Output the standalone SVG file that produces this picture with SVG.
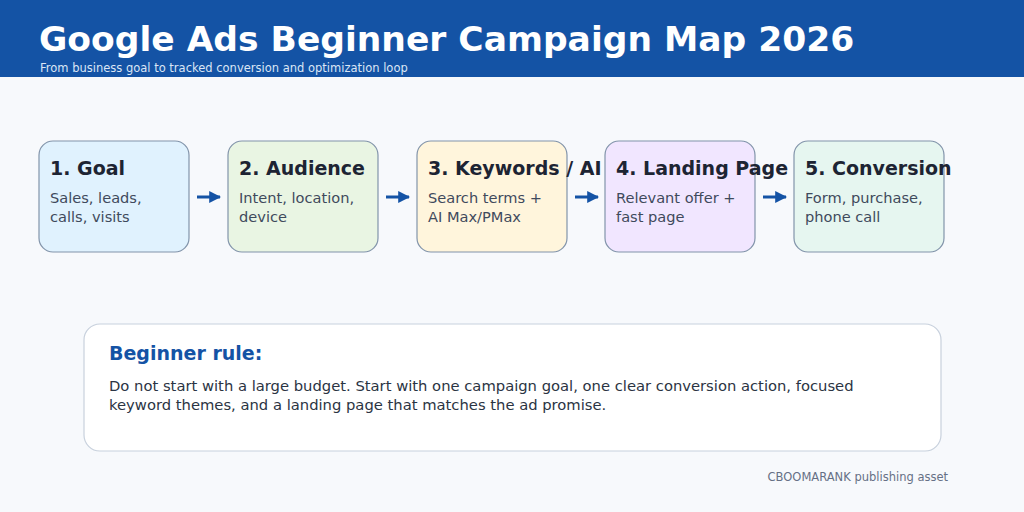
<svg xmlns="http://www.w3.org/2000/svg" width="1024" height="512" viewBox="0 0 1024 512">
<defs>
<style>
text{font-family:"DejaVu Sans",sans-serif}
.box{stroke:#8294aa;stroke-width:1.2}
.h{font-size:19px;font-weight:bold;fill:#1d2433}
.b{font-size:14.6px;fill:#3f4a5c}
.conn{stroke:#1453a5;stroke-width:3;fill:none}
</style>
<marker id="ah" viewBox="0 0 10 10" refX="9" refY="5" markerWidth="4" markerHeight="4" orient="auto" markerUnits="strokeWidth">
<path d="M0,0 L10,5 L0,10 z" fill="#1453a5"/>
</marker>
</defs>
<rect width="1024" height="512" fill="#f7f9fc"/>
<rect width="1024" height="77" fill="#1453a5"/>
<text x="39" y="51" font-size="34.5" font-weight="bold" fill="#ffffff">Google Ads Beginner Campaign Map 2026</text>
<text x="40" y="72" font-size="11.5" fill="#dbe6f5">From business goal to tracked conversion and optimization loop</text>

<g id="node1"><rect class="box" x="39" y="141" width="150" height="111" rx="14" fill="#e0f2fe"/>
<text class="h" x="50" y="175">1. Goal</text>
<text class="b" x="50" y="203">Sales, leads,</text><text class="b" x="50" y="222">calls, visits</text></g>
<g id="node2"><rect class="box" x="228" y="141" width="150" height="111" rx="14" fill="#e9f5e3"/>
<text class="h" x="239" y="175">2. Audience</text>
<text class="b" x="239" y="203">Intent, location,</text><text class="b" x="239" y="222">device</text></g>
<g id="node3"><rect class="box" x="417" y="141" width="150" height="111" rx="14" fill="#fff5dc"/>
<text class="h" x="428" y="175">3. Keywords / AI</text>
<text class="b" x="428" y="203">Search terms +</text><text class="b" x="428" y="222">AI Max/PMax</text></g>
<g id="node4"><rect class="box" x="605" y="141" width="150" height="111" rx="14" fill="#f1e6ff"/>
<text class="h" x="616" y="175">4. Landing Page</text>
<text class="b" x="616" y="203">Relevant offer +</text><text class="b" x="616" y="222">fast page</text></g>
<g id="node5"><rect class="box" x="794" y="141" width="150" height="111" rx="14" fill="#e6f6f0"/>
<text class="h" x="805" y="175">5. Conversion</text>
<text class="b" x="805" y="203">Form, purchase,</text><text class="b" x="805" y="222">phone call</text></g>

<g id="connectors">
<line class="conn" x1="197" y1="197" x2="220" y2="197" marker-end="url(#ah)"/>
<line class="conn" x1="386" y1="197" x2="409" y2="197" marker-end="url(#ah)"/>
<line class="conn" x1="575" y1="197" x2="598" y2="197" marker-end="url(#ah)"/>
<line class="conn" x1="763" y1="197" x2="786" y2="197" marker-end="url(#ah)"/>
</g>

<g id="rule"><rect x="84" y="324" width="857" height="127" rx="16" fill="#ffffff" stroke="#c8d1dd" stroke-width="1.2"/>
<text x="109" y="360" font-size="19" font-weight="bold" fill="#1453a5">Beginner rule:</text>
<text x="109" y="391" font-size="14.75" fill="#2b3443">Do not start with a large budget. Start with one campaign goal, one clear conversion action, focused</text>
<text x="109" y="410" font-size="14.75" fill="#2b3443">keyword themes, and a landing page that matches the ad promise.</text></g>
<text x="948" y="481" font-size="11.5" fill="#667085" text-anchor="end">CBOOMARANK publishing asset</text>
</svg>
